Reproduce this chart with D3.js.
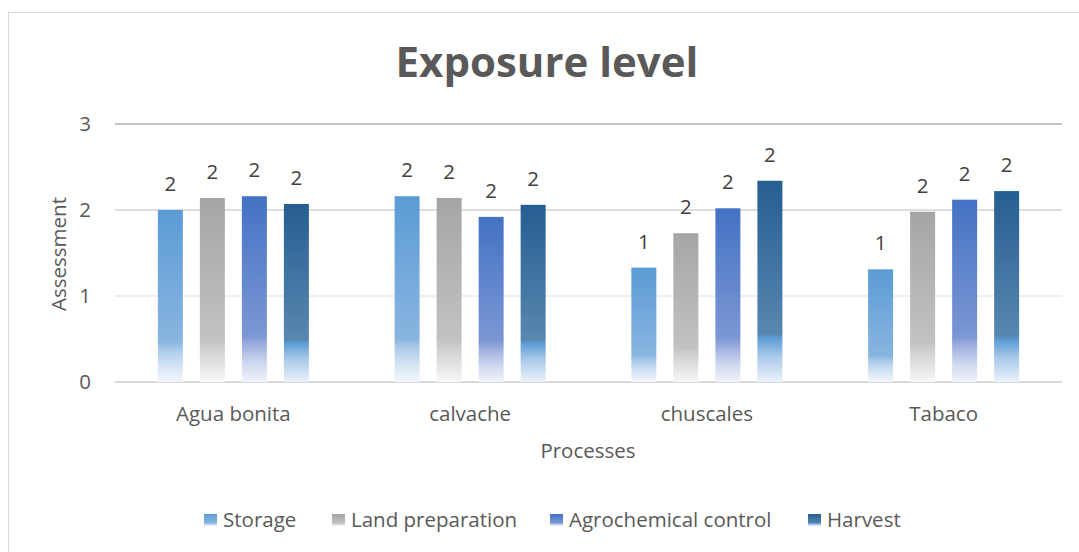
<!DOCTYPE html>
<html>
<head>
<meta charset="utf-8">
<script src="https://cdn.jsdelivr.net/npm/d3@7"></script>
<style>
html,body{margin:0;padding:0;background:#fff;}
svg{display:block;font-family:"Open Sans",sans-serif;}
</style>
</head>
<body>
<svg id="chart" width="1079" height="552"></svg>
<script>
const categories = ["Agua bonita", "calvache", "chuscales", "Tabaco"];
const seriesNames = ["Storage", "Land preparation", "Agrochemical control", "Harvest"];
const storage = [2.00, 2.16, 1.33, 1.31];
const landPreparation = [2.14, 2.14, 1.73, 1.98];
const agrochemicalControl = [2.16, 1.92, 2.02, 2.12];
const harvest = [2.07, 2.06, 2.34, 2.22];
const yTicks = [0, 1, 2, 3];

const seriesValues = [storage, landPreparation, agrochemicalControl, harvest];
const gradStops = [
  [[0,'#5B9BD5'],[0.77,'#89B5E0'],[0.81,'#A9C9EA'],[0.91,'#D6E5F5'],[1,'#F3F7FC']],
  [[0,'#A5A5A5'],[0.77,'#C2C2C2'],[0.83,'#D3D3D3'],[1,'#F7F7F7']],
  [[0,'#4472C4'],[0.75,'#7B97D4'],[0.81,'#A2B3E0'],[0.90,'#CFD8F0'],[1,'#F1F3FB']],
  [[0,'#255E91'],[0.76,'#5887B0'],[0.78,'#5B9BD5'],[0.87,'#A8C8E9'],[1,'#EAF2FB']]
];
const gridColors = {0:'#D9D9D9',1:'#EFEFEF',2:'#DDDDDD',3:'#C4C4C4'};
const FS = 20.5;

const svg = d3.select('#chart');
const defs = svg.append('defs');
gradStops.forEach((stops, i) => {
  const g = defs.append('linearGradient').attr('id','g'+i)
    .attr('x1',0).attr('y1',0).attr('x2',0).attr('y2',1);
  stops.forEach(s => g.append('stop').attr('offset', s[0]).attr('stop-color', s[1]));
});

// chart border
svg.append('rect').attr('x',8.5).attr('y',12.5).attr('width',1100).attr('height',600)
  .attr('fill','none').attr('stroke','#D9D9D9').attr('stroke-width',1);

const x0 = d3.scaleBand().domain(categories).range([115,1062]);
const x1 = d3.scaleBand().domain(seriesNames).range([0, x0.bandwidth()])
  .paddingInner(0.405).paddingOuter(1.02);
const y = d3.scaleLinear().domain([0,3]).range([382,124]);

// title
svg.append('text').attr('x',547).attr('y',77).attr('text-anchor','middle')
  .attr('font-size',42).attr('font-weight','bold').attr('fill','#595959')
  .text('Exposure level');

// gridlines
const grid = svg.append('g');
grid.selectAll('line').data(yTicks).join('line')
  .attr('x1',115).attr('x2',1062)
  .attr('y1',d=>y(d)).attr('y2',d=>y(d))
  .attr('stroke',d=>gridColors[d]).attr('stroke-width',2);

// y axis labels via d3 axis
const yAxis = svg.append('g').attr('transform','translate(115,0)')
  .call(d3.axisLeft(y).tickValues(yTicks).tickSize(0).tickPadding(24).tickFormat(d3.format('d')));
yAxis.select('.domain').remove();
yAxis.selectAll('text').attr('font-size',FS).attr('fill','#595959').attr('font-family','"Open Sans",sans-serif');

// x axis labels
const xAxis = svg.append('g').attr('transform','translate(0,382)')
  .call(d3.axisBottom(x0).tickSize(0).tickPadding(24));
xAxis.select('.domain').remove();
xAxis.selectAll('text').attr('font-size',FS).attr('fill','#595959').attr('font-family','"Open Sans",sans-serif');

// axis titles
svg.append('text').attr('transform','translate(66,254) rotate(-90)').attr('text-anchor','middle')
  .attr('font-size',FS).attr('fill','#595959').text('Assessment');
svg.append('text').attr('x',588).attr('y',458).attr('text-anchor','middle')
  .attr('font-size',FS).attr('fill','#595959').text('Processes');

// bars
const fmt = d3.format('.0f');
const groups = svg.append('g').selectAll('g').data(categories).join('g')
  .attr('transform', c => `translate(${x0(c)},0)`);
groups.selectAll('rect').data((c,ci) => seriesNames.map((s,si)=>({s,si,v:seriesValues[si][ci]})))
  .join('rect')
  .attr('x', d=>x1(d.s)).attr('width', x1.bandwidth())
  .attr('y', d=>y(d.v)).attr('height', d=>y(0)-y(d.v))
  .attr('fill', d=>`url(#g${d.si})`);
groups.selectAll('text').data((c,ci) => seriesNames.map((s,si)=>({s,si,v:seriesValues[si][ci]})))
  .join('text')
  .attr('x', d=>x1(d.s)+x1.bandwidth()/2).attr('y', d=>y(d.v)-19)
  .attr('text-anchor','middle').attr('font-size',20.5).attr('fill','#404040')
  .text(d=>fmt(d.v));

// legend
const legendX = [204, 332, 550, 808];
const lg = svg.append('g').selectAll('g').data(seriesNames).join('g')
  .attr('transform',(d,i)=>`translate(${legendX[i]},514)`);
lg.append('rect').attr('width',13).attr('height',12).attr('fill',(d,i)=>`url(#g${i})`);
lg.append('text').attr('x',19).attr('y',13).attr('font-size',FS).attr('fill','#595959').text(d=>d);
</script>
</body>
</html>
